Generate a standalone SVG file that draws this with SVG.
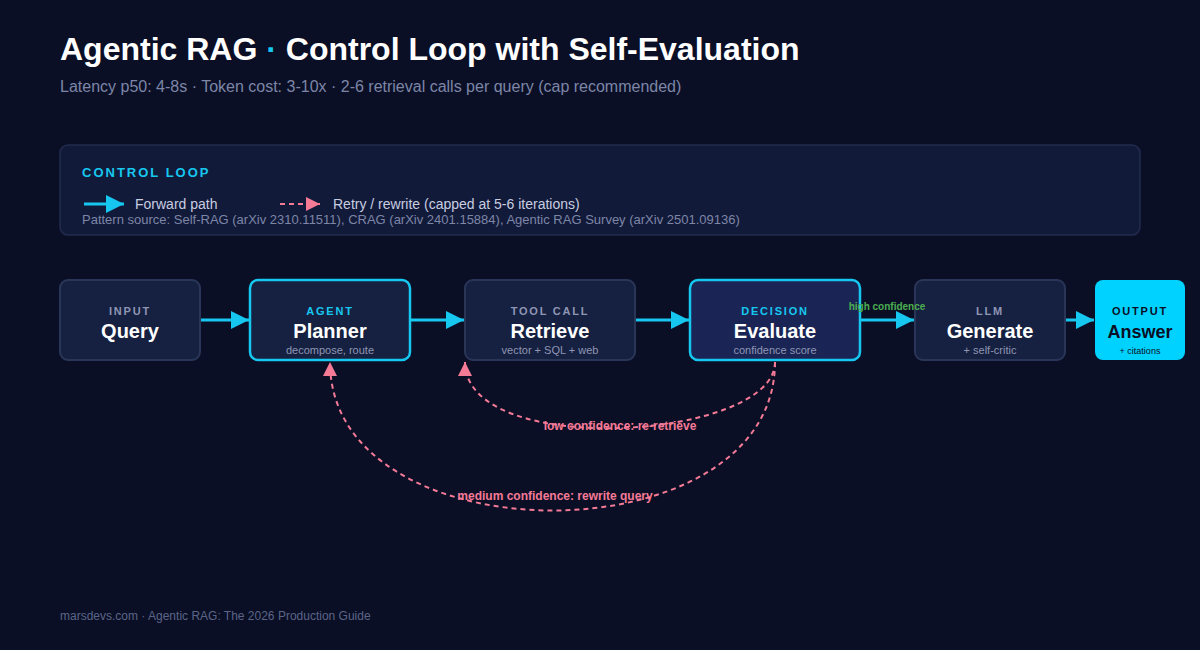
<svg xmlns="http://www.w3.org/2000/svg" width="1200" height="650" viewBox="0 0 1200 650">
<style>
text{font-family:"Liberation Sans",Arial,sans-serif}
.node{fill:#162040;stroke:#2a3658;stroke-width:2}
.hl{fill:#162040;stroke:#16c8f0;stroke-width:2.5}
.cap{font-size:11px;font-weight:bold;letter-spacing:1.8px;fill:#8e96b4;text-anchor:middle}
.capc{fill:#16c8f0}
.t{font-size:20px;font-weight:bold;fill:#fff;text-anchor:middle}
.s{font-size:11px;fill:#8e96b4;text-anchor:middle}
.fw{stroke:#16c8f0;stroke-width:3;fill:none}
.rt{stroke:#f47a96;stroke-width:2;stroke-dasharray:5,4;fill:none}
.rl{font-size:12px;font-weight:bold;fill:#f47a96;text-anchor:middle}
</style>
<defs>
<marker id="afb" viewBox="0 0 10 10" markerWidth="18" markerHeight="18" refX="10" refY="5" orient="auto" markerUnits="userSpaceOnUse"><path d="M0,0 L10,5 L0,10Z" fill="#16c8f0"/></marker>
<marker id="ar" viewBox="0 0 10 10" markerWidth="14" markerHeight="14" refX="10" refY="5" orient="auto" markerUnits="userSpaceOnUse"><path d="M0,0 L10,5 L0,10Z" fill="#f47a96"/></marker>
</defs>
<rect width="1200" height="650" fill="#0a0f26"/>
<text x="60" y="60" font-size="32" font-weight="bold" fill="#fff">Agentic RAG <tspan fill="#16c8f0">·</tspan> Control Loop with Self-Evaluation</text>
<text x="60" y="92" font-size="16" fill="#7d86a6">Latency p50: 4-8s · Token cost: 3-10x · 2-6 retrieval calls per query (cap recommended)</text>
<g id="legend">
<rect x="60" y="145" width="1080" height="90" rx="8" fill="#121a3a" stroke="#222c4e" stroke-width="1.5"/>
<text x="82" y="177" font-size="13" font-weight="bold" letter-spacing="2" fill="#16c8f0">CONTROL LOOP</text>
<line x1="84" y1="204" x2="124" y2="204" class="fw" marker-end="url(#afb)"/>
<text x="135" y="209" font-size="14" fill="#c8cde0">Forward path</text>
<line x1="280" y1="204" x2="320" y2="204" class="rt" marker-end="url(#ar)"/>
<text x="333" y="209" font-size="14" fill="#c8cde0">Retry / rewrite (capped at 5-6 iterations)</text>
<text x="82" y="224" font-size="13" fill="#7d86a6">Pattern source: Self-RAG (arXiv 2310.11511), CRAG (arXiv 2401.15884), Agentic RAG Survey (arXiv 2501.09136)</text>
</g>
<g id="connectors">
<line x1="200" y1="320" x2="249" y2="320" class="fw" marker-end="url(#afb)"/>
<line x1="410" y1="320" x2="464" y2="320" class="fw" marker-end="url(#afb)"/>
<line x1="635" y1="320" x2="689" y2="320" class="fw" marker-end="url(#afb)"/>
<line x1="860" y1="320" x2="914" y2="320" class="fw" marker-end="url(#afb)"/>
<line x1="1065" y1="320" x2="1094" y2="320" class="fw" marker-end="url(#afb)"/>
<path d="M775,362 C775,440 465,460 465,362" class="rt" marker-end="url(#ar)"/>
<text x="620" y="430" class="rl">low confidence: re-retrieve</text>
<path d="M775,362 C775,560 330,560 330,362" class="rt" marker-end="url(#ar)"/>
<text x="555" y="500" class="rl">medium confidence: rewrite query</text>
</g>
<g id="query"><rect x="60" y="280" width="140" height="80" rx="8" class="node"/><text x="130" y="315" class="cap">INPUT</text><text x="130" y="338" class="t">Query</text></g>
<g id="planner"><rect x="250" y="280" width="160" height="80" rx="8" class="hl"/><text x="330" y="315" class="cap capc">AGENT</text><text x="330" y="338" class="t">Planner</text><text x="330" y="354" class="s">decompose, route</text></g>
<g id="retrieve"><rect x="465" y="280" width="170" height="80" rx="8" class="node"/><text x="550" y="315" class="cap">TOOL CALL</text><text x="550" y="338" class="t">Retrieve</text><text x="550" y="354" class="s">vector + SQL + web</text></g>
<g id="evaluate"><rect x="690" y="280" width="170" height="80" rx="8" class="hl" style="fill:#1a2555"/><text x="775" y="315" class="cap capc">DECISION</text><text x="775" y="338" class="t">Evaluate</text><text x="775" y="354" class="s">confidence score</text></g>
<g id="generate"><rect x="915" y="280" width="150" height="80" rx="8" class="node"/><text x="990" y="315" class="cap">LLM</text><text x="990" y="338" class="t">Generate</text><text x="990" y="354" class="s">+ self-critic</text></g>
<g id="answer"><rect x="1095" y="280" width="90" height="80" rx="8" fill="#00d2ff"/><text x="1140" y="315" class="cap" style="fill:#0a0f26">OUTPUT</text><text x="1140" y="338" class="t" style="fill:#0a0f26;font-size:18px">Answer</text><text x="1140" y="354" font-size="9" fill="#0a0f26" text-anchor="middle">+ citations</text></g>
<g id="edge-label"><text x="887" y="310" font-size="10" font-weight="bold" fill="#4caf50" text-anchor="middle">high confidence</text></g>
<text x="60" y="620" font-size="12" fill="#5c6586">marsdevs.com · Agentic RAG: The 2026 Production Guide</text>
</svg>
